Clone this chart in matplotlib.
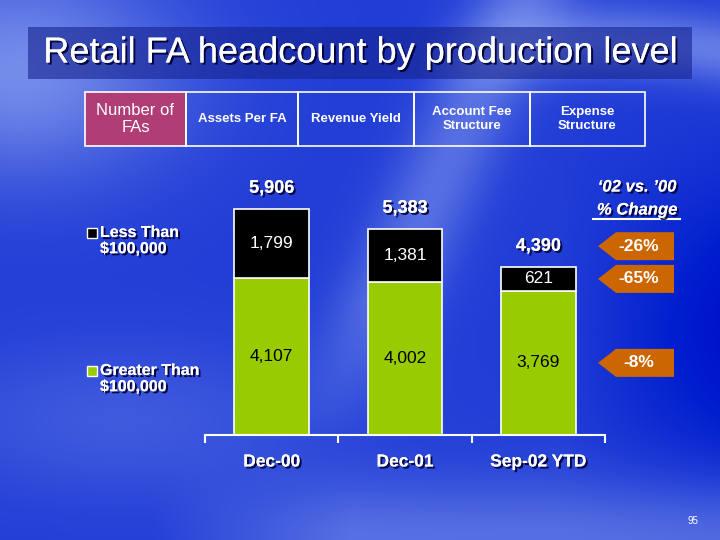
import numpy as np
import matplotlib
matplotlib.use("Agg")
from matplotlib import pyplot as plt
from matplotlib import patches
from matplotlib import patheffects as pe

plt.rcParams['font.family'] = ['Liberation Sans', 'DejaVu Sans']

categories = ['Dec-00', 'Dec-01', 'Sep-02 YTD']
greater = [4107, 4002, 3769]
less = [1799, 1381, 621]
pct_change = [-26, -65, -8]  # total, less than, greater than
tabs = ['Number of\nFAs', 'Assets Per FA', 'Revenue Yield',
        'Account Fee\nStructure', 'Expense\nStructure']
legend_labels = ['Less Than\n$100,000', 'Greater Than\n$100,000']

green = '#99cc00'
orange = '#cc6600'
shadow = [pe.withSimplePatchShadow(offset=(1.5, -1.5), shadow_rgbFace='#000033', alpha=0.9), pe.Normal()]

W, H = 720, 540
fig = plt.figure(figsize=(7.2, 5.4), dpi=100)

# background: blue with light swooshes (smooth masks only)
yy, xx = np.mgrid[0:H, 0:W].astype(float)
def ramp(v, a, b):
    return np.clip((v - a) / (b - a), 0, 1)

light = np.zeros((H, W))
light += 0.55 * np.exp(-((xx - 20) ** 2 / 160 ** 2 + (yy - 70) ** 2 / 110 ** 2))
d1 = (xx - (520 - 0.45 * yy))
light += 0.35 * np.exp(-(d1 ** 2) / 50 ** 2) * (1 - ramp(yy, 300, 440))
d2 = (yy - (40 + 0.0007 * (xx - 600) ** 2))
light += 0.45 * np.exp(-(d2 ** 2) / 35 ** 2) * ramp(xx, 420, 560)
light += 0.35 * np.exp(-((yy - 540) ** 2) / 60 ** 2) * ramp(xx, 150, 350)
light += 0.2 * np.exp(-((xx - 120) ** 2 / 200 ** 2 + (yy - 420) ** 2 / 80 ** 2))
dark = ramp(xx, 560, 720) * np.exp(-((yy - 330) ** 2) / 150 ** 2)
light = np.clip(light - 0.3 * dark, -0.3, 1)
base = np.array([0.13, 0.24, 0.84])
top = np.array([0.72, 0.80, 0.98])
img = base[None, None, :] + light[..., None] * (top - base)[None, None, :]
img = np.clip(img, 0, 1)

bg = fig.add_axes([0, 0, 1, 1])
bg.imshow(img, extent=(0, W, H, 0), aspect='auto', zorder=0)
bg.set_xlim(0, W)
bg.set_ylim(H, 0)
bg.axis('off')

# title bar
bg.add_patch(patches.Rectangle((28, 27), 664, 52, facecolor='#16238f', alpha=0.6, edgecolor='none', zorder=1))
bg.text(360, 53, 'Retail FA headcount by production level', color='white', fontsize=26,
        ha='center', va='center', zorder=2, path_effects=shadow)

# tab row
edges = [85, 186, 298, 414, 530, 645]
for i, t in enumerate(tabs):
    x0, x1 = edges[i], edges[i + 1]
    fc = '#b03d76' if i == 0 else 'none'
    bg.add_patch(patches.Rectangle((x0, 92), x1 - x0, 54, facecolor=fc, edgecolor='white', lw=1.2, zorder=2))
    if i == 0:
        bg.text((x0 + x1) / 2, 119, t, color='white', fontsize=12, ha='center', va='center',
                linespacing=1.15, zorder=3)
    else:
        bg.text((x0 + x1) / 2, 119, t, color='white', fontsize=9.5, fontweight='bold', ha='center',
                va='center', linespacing=1.3, zorder=3)

# chart
scale = (435 - 209) / 5906
ax = fig.add_axes([205 / W, 105 / H, 400 / W, 265 / H])
ax.patch.set_alpha(0)
x = np.arange(len(categories))
ax.bar(x, greater, width=0.56, color=green, edgecolor='white', lw=1.2, zorder=2)
ax.bar(x, less, width=0.56, bottom=greater, color='black', edgecolor='white', lw=1.2, zorder=2)
ax.set_xlim(-0.5, 2.5)
ax.set_ylim(0, 265 / scale)
for s in ['left', 'right', 'top']:
    ax.spines[s].set_visible(False)
ax.spines['bottom'].set_color('white')
ax.spines['bottom'].set_linewidth(1.5)
ax.set_yticks([])
ax.set_xticks(x, categories)
ax.set_xticks([-0.5, 0.5, 1.5, 2.5], minor=True)
ax.tick_params(axis='x', which='major', length=0, pad=14, labelsize=12.5, labelcolor='white')
ax.tick_params(axis='x', which='minor', length=6, width=1.5, color='white', direction='out')
for lab in ax.get_xticklabels():
    lab.set_fontweight('bold')
    lab.set_path_effects(shadow)

for i in range(len(categories)):
    g, l = greater[i], less[i]
    ax.text(i, g / 2, f'{g:,}', ha='center', va='center', fontsize=12.5, color='black', zorder=3)
    ax.text(i, g + l / 2, f'{l:,}', ha='center', va='center', fontsize=12.5, color='white', zorder=3)
    ax.annotate(f'{g + l:,}', (i, g + l), xytext=(0, 15), textcoords='offset points', ha='center',
                va='center', fontsize=13, fontweight='bold', color='white', path_effects=shadow)

# legend
leg_y = [232, 370]
for ly, lab, col in zip(leg_y, legend_labels, ['black', green]):
    bg.add_patch(patches.Rectangle((87, ly - 4), 10, 10, facecolor=col, edgecolor='white', lw=1, zorder=2))
    bg.text(100, ly - 7, lab, color='white', fontsize=11.5, fontweight='bold', ha='left', va='top',
            linespacing=1.1, zorder=3, path_effects=shadow)

# % change header
bg.text(637, 187, '\u201802 vs. \u201900', color='white', fontsize=12, fontweight='bold', style='italic',
        ha='center', va='center', path_effects=shadow)
bg.text(637, 210, '% Change', color='white', fontsize=12, fontweight='bold', style='italic',
        ha='center', va='center', path_effects=shadow)
bg.plot([593, 680], [219, 219], color='white', lw=1.5)

# arrows aligned with the series they describe
sep = len(categories) - 1
ys_data = [greater[sep] + less[sep] + 15 / 72 * 100 / scale,
           greater[sep] + less[sep] / 2,
           greater[sep] / 2]
for yd, pc in zip(ys_data, pct_change):
    ypx = H - ax.transData.transform((0, yd))[1]
    poly = [(598, ypx), (616, ypx - 14), (674, ypx - 14), (674, ypx + 14), (616, ypx + 14)]
    bg.add_patch(patches.Polygon(poly, closed=True, facecolor=orange, edgecolor='none', zorder=2))
    bg.text(639, ypx, f'{pc}%', color='white', fontsize=12.5, fontweight='bold', ha='center',
            va='center', zorder=3)

bg.text(693, 521, '95', color='white', fontsize=7, ha='center', va='center')

fig.savefig('out.png', dpi=100)
